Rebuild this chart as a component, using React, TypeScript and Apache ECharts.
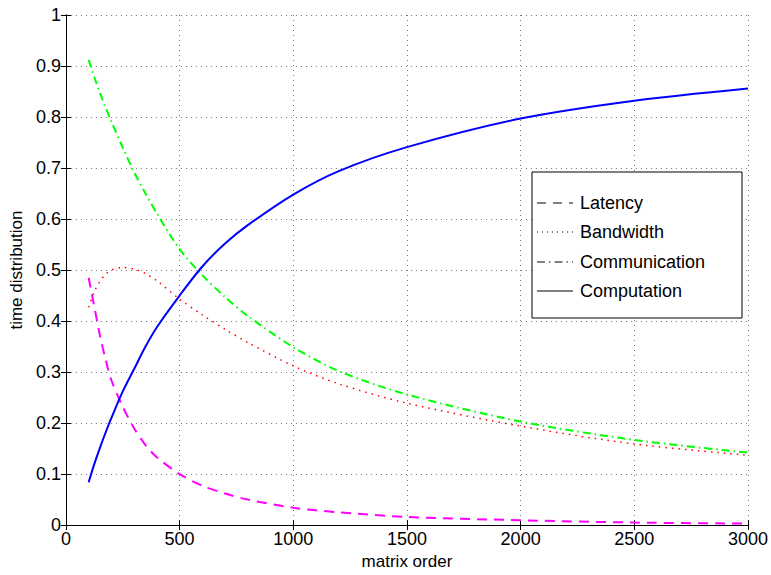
import React, { useEffect, useRef } from "react";
import * as echarts from "echarts";

const matrixOrder = [100, 125, 150, 175, 200, 250, 300, 350, 400, 500, 600, 700, 800, 1000, 1200, 1500, 2000, 2500, 3000];
const latency = [0.485, 0.428, 0.371, 0.324, 0.284, 0.232, 0.19, 0.157, 0.133, 0.1, 0.077, 0.062, 0.05, 0.034, 0.025, 0.016, 0.0095, 0.005, 0.003];
const bandwidth = [0.427, 0.458, 0.478, 0.492, 0.5, 0.505, 0.502, 0.493, 0.479, 0.443, 0.412, 0.384, 0.358, 0.312, 0.277, 0.239, 0.194, 0.159, 0.137];
const communication = [0.912, 0.878, 0.847, 0.818, 0.791, 0.74, 0.692, 0.65, 0.611, 0.541, 0.49, 0.447, 0.41, 0.349, 0.302, 0.256, 0.203, 0.167, 0.142];
const computation = [0.084, 0.12, 0.152, 0.182, 0.21, 0.262, 0.306, 0.35, 0.388, 0.45, 0.507, 0.552, 0.588, 0.648, 0.694, 0.741, 0.797, 0.832, 0.856];
const legendNames = ["Latency", "Bandwidth", "Communication", "Computation"];

const FONT = "'Liberation Sans', Arial, Helvetica, sans-serif";

function pairs(ys: number[]) {
  return matrixOrder.map((x, i) => [x, ys[i]]);
}

export default function App() {
  const ref = useRef<HTMLDivElement>(null);
  useEffect(() => {
    if (!ref.current) return;
    const chart = echarts.init(ref.current, null, { renderer: "svg" });
    const gridLine = { show: true, lineStyle: { color: "#777", width: 1, type: [1, 4] as any } };
    const axisCommon = {
      axisLine: { show: true, lineStyle: { color: "#000", width: 1 } },
      axisTick: { show: true, inside: true, length: 5, lineStyle: { color: "#000" } },
    };
    const lineSeries = (name: string, ys: number[], color: string, type: any, width: number) => ({
      name,
      type: "line",
      data: pairs(ys),
      showSymbol: false,
      symbol: "none",
      smooth: 0.3,
      lineStyle: { color, width, type },
      z: 3,
    });
    const legendY = [203, 232, 262, 291];
    const legendDash: any[] = [[9, 7], [1, 4], [8, 4, 1.5, 4], null];
    const legendGraphics: any[] = [
      {
        type: "rect",
        shape: { x: 532, y: 172, width: 210, height: 146 },
        style: { fill: "#fff", stroke: "#000", lineWidth: 1 },
        z: 10,
      },
    ];
    legendNames.forEach((n, i) => {
      legendGraphics.push({
        type: "line",
        shape: { x1: 537, y1: legendY[i], x2: 573, y2: legendY[i] },
        style: { stroke: "#000", lineWidth: 1, lineDash: legendDash[i] || undefined },
        z: 11,
      });
      legendGraphics.push({
        type: "text",
        x: 580,
        y: legendY[i],
        style: { text: n, font: `18px ${FONT}`, fill: "#000", verticalAlign: "middle" },
        z: 11,
      });
    });
    chart.setOption({
      animation: false,
      backgroundColor: "#fff",
      grid: { left: 63, right: 21, top: 15, bottom: 45, containLabel: false },
      xAxis: [
        {
          type: "value",
          min: 0,
          max: 3000,
          interval: 500,
          name: "matrix order",
          nameLocation: "middle",
          nameGap: 23,
          nameTextStyle: { fontFamily: FONT, fontSize: 17, color: "#000" },
          axisLabel: { fontFamily: FONT, fontSize: 18, color: "#000", margin: 5, formatter: (v: number) => String(v) },
          splitLine: gridLine,
          ...axisCommon,
        },
        {
          type: "value",
          position: "top",
          min: 0,
          max: 3000,
          interval: 500,
          axisLabel: { show: false },
          splitLine: { show: false },
          ...axisCommon,
        },
      ],
      yAxis: [
        {
          type: "value",
          min: 0,
          max: 1,
          interval: 0.1,
          name: "time distribution",
          nameLocation: "middle",
          nameGap: 37,
          nameTextStyle: { fontFamily: FONT, fontSize: 17, color: "#000" },
          axisLabel: { fontFamily: FONT, fontSize: 18, color: "#000", margin: 5 },
          splitLine: gridLine,
          ...axisCommon,
        },
        {
          type: "value",
          position: "right",
          min: 0,
          max: 1,
          interval: 0.1,
          axisLabel: { show: false },
          splitLine: { show: false },
          ...axisCommon,
        },
      ],
      series: [
        lineSeries("Latency", latency, "#ff00ff", [10, 7], 2),
        lineSeries("Bandwidth", bandwidth, "#ff0000", [1.5, 5], 1.5),
        lineSeries("Communication", communication, "#00ff00", [8, 4, 1.5, 4], 2),
        lineSeries("Computation", computation, "#0000ff", "solid", 2),
      ],
      graphic: legendGraphics,
    });
    return () => chart.dispose();
  }, []);
  return <div ref={ref} style={{ position: "fixed", left: 0, top: 0, width: 771, height: 575, background: "#fff" }} />;
}
